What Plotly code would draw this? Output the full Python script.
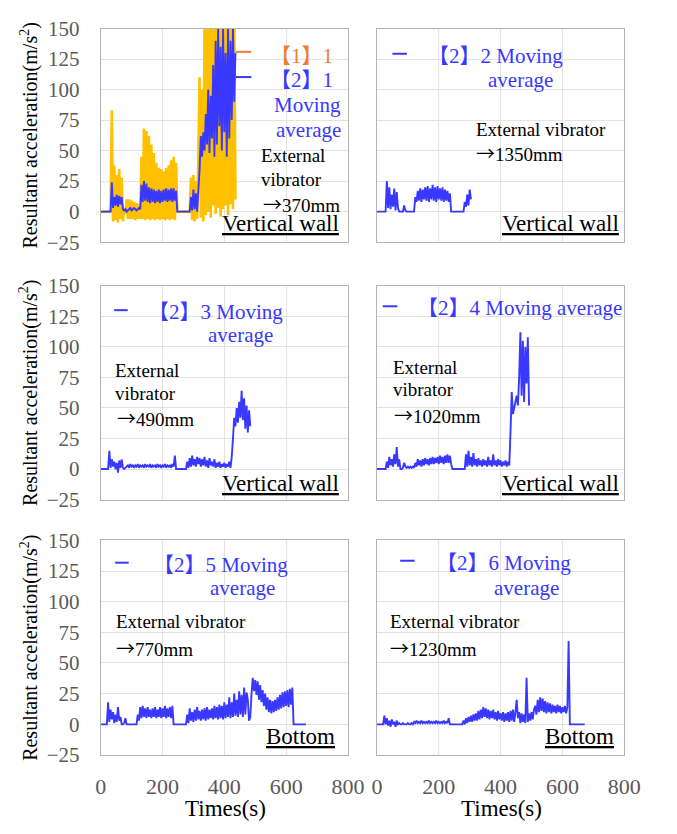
import plotly.graph_objects as go

# ---------------- data ----------------
SAMPLE_STEP = 4  # seconds between samples

# Panel 1: raw resultant acceleration 【1】1 (yellow)
P1_RAW = [0, 0, 0, 0, 0, 0, 0, 0, 0,
          83, -8, 38, -7, 30, -9, 35, -6, 28, -8,
          2, -2, 10, -6,
          10, -6, 9, -6, 8, -7, 7, -6, 6, -6,
          45, -6, 68, -7, 66, -6, 62, -7, 55, -6, 48, -7, 40, -6, 36, -7, 35, -6, 33, -7,
          36, -6, 38, -7, 42, -6, 45, -7, 40,
          0, 0, 0, 0, 0, 0, 0, 0, 0, 0, 0,
          28, -7, 30, -8, 25, -6, 45,
          110, -5, 100, -8, 150, -3, 160, 0, 170, -5,
          160, 5, 170, -2, 165, 3, 170, -4, 160, 2,
          170, 5, 165, -3, 170, 6, 160, 2, 170, 10]

# Panel 1: moving average 【2】1 (blue)
P1_MA = [0, 0, 0, 0, 0, 0, 0, 0, 0,
         24, 3, 12, 5, 14, 4, 13, 6, 12, 2,
         1, 2, 0, 1,
         2, 3, 1, 2, 3, 2, 1, 2, 3, 2,
         22, 8, 25, 9, 23, 8, 20, 7, 19, 8, 18, 7, 17, 8, 18, 7, 17, 8, 18, 9,
         19, 8, 18, 9, 19, 8, 19, 9, 17,
         0, 0, 0, 0, 0, 0, 0, 0, 0, 0, 0,
         12, 1, 18, 2, 15, 0, 17,
         35, 62, 45, 65, 50, 80, 55, 100, 48, 95,
         60, 120, 45, 140, 55, 150, 70, 135, 50, 150,
         65, 130, 45, 150, 60, 140, 75, 150, 90, 130]

P2_MA = [0, 0, 0, 0, 0, 0, 0, 0,
         25, 3, 20, 2, 14, 4, 19, 1, 16, 3,
         0, 0, 0, 0,
         5, 1,
         0, 0, 0, 0, 0, 0, 0,
         12, 8, 17, 9, 19, 8, 18, 10, 20, 9, 21, 8, 19, 10, 22, 9, 20, 8, 21, 10,
         19, 9, 20, 8, 18, 9, 17, 8, 15,
         0, 0, 0, 0, 0, 0, 0, 0, 0, 0, 0,
         8, 4, 14, 5, 18, 10]

P3_MA = [0, 0, 0, 0, 0, 0, 0,
         15, 1, 8, 2, 6, 0, 5, -3, 7, 1, 8,
         1, 0, 1,
         2, 3, 1, 4, 2, 3, 1, 3, 2, 4, 1, 3, 2, 3, 1, 4, 2, 3, 2, 4,
         1, 3, 2, 3, 1, 4, 2, 3, 1, 3, 2, 4, 1, 3, 2, 3, 1, 4, 2,
         11,
         0, 0, 0, 0, 0, 0, 0, 0, 0,
         6, 1, 9, 2, 11, 3, 8, 2, 10, 4, 9, 2, 8, 3, 10, 2, 7, 1, 9, 3,
         6, 2, 8, 1, 5, 2, 6, 1, 4, 2, 5, 1, 4, 2, 6, 1, 10,
         25, 42,
         35, 50, 38, 55, 42, 64, 40, 58, 33, 52, 30, 48, 35]

P4_MA = [0, 0, 0, 0, 0, 0, 0, 0,
         6, 1, 10, 3, 8, 2, 12, 4, 18, 2, 8,
         0, 0, 1, 5,
         2, 1, 2, 1, 2, 1, 2, 1,
         5, 2, 8, 3, 7, 2, 8, 3, 9, 4, 8, 3, 9, 4, 10, 4, 9, 5, 10, 4,
         11, 5, 10, 4, 11, 5, 12, 5, 11, 4,
         0, 0, 0, 0, 0, 0, 0, 0, 0, 0, 0,
         12, 2, 15, 3, 10, 2, 13, 3, 8, 2, 9, 3, 7, 2, 8, 3, 7, 2, 10, 3,
         7, 2, 12, 3, 7, 2, 8, 3, 7, 2, 6, 3, 7, 2, 6, 3,
         30, 63, 45, 50,
         55, 60, 52,
         75, 112, 60, 105, 55, 100, 70, 108, 52]

P5_MA = [0, 0, 0, 0, 0, 0,
         18, 2, 12, 4, 10, 1, 8, 2, 14, 3, 6,
         0, 0, 1, 5,
         0, 0, 0, 0, 0, 0, 0, 0, 0,
         8, 3, 14, 5, 15, 6, 13, 5, 14, 6, 12, 5, 13, 6, 14, 5, 12, 6, 14, 5,
         13, 6, 15, 5, 13, 6, 14, 5, 15,
         0, 0, 0, 0, 0, 0, 0, 0, 0, 0, 0,
         8, 1, 13, 3, 10, 2, 12, 3, 14, 4, 11, 3, 12, 4, 13, 3, 14, 4, 12, 5,
         13, 4, 15, 5, 14, 4, 16, 5, 15, 4, 18, 5, 16, 6, 22, 5, 18, 6, 25, 7,
         20, 6, 27, 8, 24, 6, 30, 8, 26, 20,
         3, 6,
         25, 38, 27, 36, 24,
         35, 20, 32, 18, 28, 15, 25, 12, 22, 10, 20, 9, 19, 10, 20, 11, 22, 12, 24, 13,
         26, 14, 27, 15, 28, 14, 29, 16, 30,
         0, 0, 0, 0, 0, 0, 0, 0, 0, 0, 0]

P6_MA = [0, 0, 0, 0, 0, 0,
         7, 0, 5, -1, 3, -2, 4, 0, 2, -2, 3,
         0, 1, 0, 0, 1, 0, 0, 0, 1, 0, 0, 1, 0,
         2, 1, 3, 1, 2, 1, 3, 1, 2, 1, 2, 1, 3, 1, 2, 1, 2, 1, 3, 1,
         2, 1, 2, 1, 3, 1, 2, 1, 5,
         0, 0, 0, 0, 0, 0, 0, 0, 0, 0, 0,
         3, 0, 5, 1, 6, 2, 7, 2, 8, 3, 9,
         3, 11, 4, 12, 5, 14, 6, 13, 5, 12,
         4, 11, 5, 12, 4, 10, 3, 11, 4, 9,
         3, 10, 2, 9, 3, 10, 2, 11, 3, 12, 2, 10,
         20, 5,
         10, 1, 9, 2, 8, 1,
         38,
         2, 9, 3, 10, 4, 12,
         15, 8, 20, 10, 22, 11, 21, 10, 19, 9, 18, 10, 17, 9, 16, 10, 15, 9, 16, 10,
         15, 9, 14, 10, 15,
         9, 14,
         68,
         0, 0, 0, 0, 0, 0, 0, 0, 0, 0, 0, 0, 0]

X_TICKS = [0, 200, 400, 600, 800]
Y_TICKS = [-25, 0, 25, 50, 75, 100, 125, 150]
X_RANGE = [0, 800]
Y_RANGE = [-25, 150]

PANEL_LABELS = ["【2】1", "【2】2", "【2】3", "【2】4", "【2】5", "【2】6"]
DISTANCES = ["370mm", "1350mm", "490mm", "1020mm", "770mm", "1230mm"]
POSITIONS = ["Vertical wall", "Vertical wall", "Vertical wall", "Vertical wall", "Bottom", "Bottom"]

# ---------------- style ----------------
W, H = 677, 834
BLUE = "#3838FF"
YELLOW = "#FFC000"
ORANGE = "#ED7D31"
SERIF = "Liberation Serif"
CJK = "Noto Sans CJK JP"
GRID = "#E3E3E3"
FRAME = "#B3B3B3"
TICKC = "#595959"


def X(px):
    return px / W


def Y(py):
    return 1 - py / H


def cjk(s):
    return f"<span style='font-family:{CJK}'>{s}</span>"


cols = [(98, 354), (384, 640)]
rows = [(17, 237), (282, 502), (544, 765)]


def times(vals):
    return [i * SAMPLE_STEP for i in range(len(vals))]


fig = go.Figure()
series = [P1_MA, P2_MA, P3_MA, P4_MA, P5_MA, P6_MA]

layout = dict(width=W, height=H, margin=dict(l=0, r=0, t=0, b=0),
              paper_bgcolor="white", plot_bgcolor="white", showlegend=False,
              font=dict(family=SERIF, color="black"))

for k in range(6):
    r, c = divmod(k, 2)
    n = k + 1
    xa = "x" if n == 1 else f"x{n}"
    ya = "y" if n == 1 else f"y{n}"
    if k == 0:
        fig.add_trace(go.Scatter(x=times(P1_RAW), y=P1_RAW, mode="lines",
                                 line=dict(color=YELLOW, width=2.6, simplify=False),
                                 xaxis=xa, yaxis=ya))
    fig.add_trace(go.Scatter(x=times(series[k]), y=series[k], mode="lines",
                             line=dict(color=BLUE, width=1.9, simplify=False),
                             xaxis=xa, yaxis=ya))
    x0, x1 = cols[c]
    y0, y1 = rows[r]
    layout["xaxis" if n == 1 else f"xaxis{n}"] = dict(
        domain=[X(x0), X(x1)], range=X_RANGE, anchor=ya,
        tickvals=X_TICKS, showticklabels=(r == 2),
        ticks="outside", ticklen=12, tickcolor="rgba(0,0,0,0)",
        tickfont=dict(family=SERIF, size=22, color=TICKC),
        showgrid=True, gridcolor=GRID, gridwidth=1, zeroline=False,
        showline=True, linecolor=FRAME, linewidth=1, mirror=True)
    layout["yaxis" if n == 1 else f"yaxis{n}"] = dict(
        domain=[Y(y1), Y(y0)], range=Y_RANGE, anchor=xa,
        tickvals=Y_TICKS, showticklabels=(c == 0),
        ticks="outside", ticklen=16, tickcolor="rgba(0,0,0,0)",
        tickfont=dict(family=SERIF, size=21, color=TICKC),
        showgrid=True, gridcolor=GRID, gridwidth=1, zeroline=False,
        showline=True, linecolor=FRAME, linewidth=1, mirror=True)

fig.update_layout(**layout)

ann = []
shapes = []


def txt(text, px, py, size, color="black", anchor="left"):
    ann.append(dict(text=text, x=X(px), y=Y(py), xref="paper", yref="paper",
                    xanchor=anchor, yanchor="middle", showarrow=False,
                    font=dict(family=SERIF, size=size, color=color)))


def dash(px0, px1, py, color=BLUE):
    shapes.append(dict(type="line", xref="paper", yref="paper",
                       x0=X(px0), x1=X(px1), y0=Y(py), y1=Y(py),
                       line=dict(color=color, width=2)))


def label(s):
    return s.replace("【", cjk("【")).replace("】", cjk("】"))


for (y0, y1) in rows:
    ann.append(dict(text="Resultant acceleration(m/s<sup>2</sup>)", x=X(24), y=Y((y0 + y1) / 2),
                    xref="paper", yref="paper", textangle=-90, showarrow=False,
                    xanchor="center", yanchor="middle",
                    font=dict(family=SERIF, size=20, color="black")))
for (x0, x1) in cols:
    txt("Times(s)", (x0 + x1) / 2 + 1, 820, 23, anchor="center")

ARROW = cjk("→")

# Panel 1
dash(238, 254, 41, ORANGE)
dash(238, 254, 67, BLUE)
txt(label("【1】1"), 271, 43, 21, ORANGE)
txt(label(PANEL_LABELS[0]), 271, 68, 21, BLUE)
txt("Moving", 349, 96, 21, BLUE, "right")
txt("average", 349, 122, 21, BLUE, "right")
txt("External", 262, 148, 19)
txt("vibrator", 262, 172, 19)
txt(ARROW + DISTANCES[0], 264, 197, 19)
txt("<u>" + POSITIONS[0] + "</u>", 347, 218, 23, anchor="right")

# Panel 2
dash(400, 415, 43)
txt(label(PANEL_LABELS[1]) + " Moving", 435, 43, 21, BLUE)
txt("average", 568, 70, 21, BLUE, "right")
txt("External vibrator", 484, 121, 19)
txt(ARROW + DISTANCES[1], 484, 145, 19)
txt("<u>" + POSITIONS[1] + "</u>", 637, 218, 23, anchor="right")

# Panel 3
dash(112, 126, 307)
txt(label(PANEL_LABELS[2]) + " Moving", 145, 307, 21, BLUE)
txt("average", 278, 333, 21, BLUE, "right")
txt("External", 111, 369, 19)
txt("vibrator", 111, 393, 19)
txt(ARROW + DISTANCES[2], 113, 417, 19)
txt("<u>" + POSITIONS[2] + "</u>", 347, 485, 23, anchor="right")

# Panel 4
dash(390, 405, 303)
txt(label(PANEL_LABELS[3]) + " Moving average", 423, 303, 21, BLUE)
txt("External", 399, 366, 19)
txt("vibrator", 399, 389, 19)
txt(ARROW + DISTANCES[3], 400, 414, 19)
txt("<u>" + POSITIONS[3] + "</u>", 637, 485, 23, anchor="right")

# Panel 5
dash(113, 127, 567)
txt(label(PANEL_LABELS[4]) + " Moving", 150, 567, 21, BLUE)
txt("average", 281, 593, 21, BLUE, "right")
txt("External vibrator", 112, 628, 19)
txt(ARROW + DISTANCES[4], 112, 654, 19)
txt("<u>" + POSITIONS[4] + "</u>", 343, 746, 23, anchor="right")

# Panel 6
dash(408, 423, 565)
txt(label(PANEL_LABELS[5]) + " Moving", 443, 565, 21, BLUE)
txt("average", 575, 593, 21, BLUE, "right")
txt("External vibrator", 395, 628, 19)
txt(ARROW + DISTANCES[5], 395, 654, 19)
txt("<u>" + POSITIONS[5] + "</u>", 631, 746, 23, anchor="right")

fig.update_layout(annotations=ann, shapes=shapes)
fig.write_html("out.html",
               post_script="document.body.style.margin='0px';document.body.style.padding='0px';")
